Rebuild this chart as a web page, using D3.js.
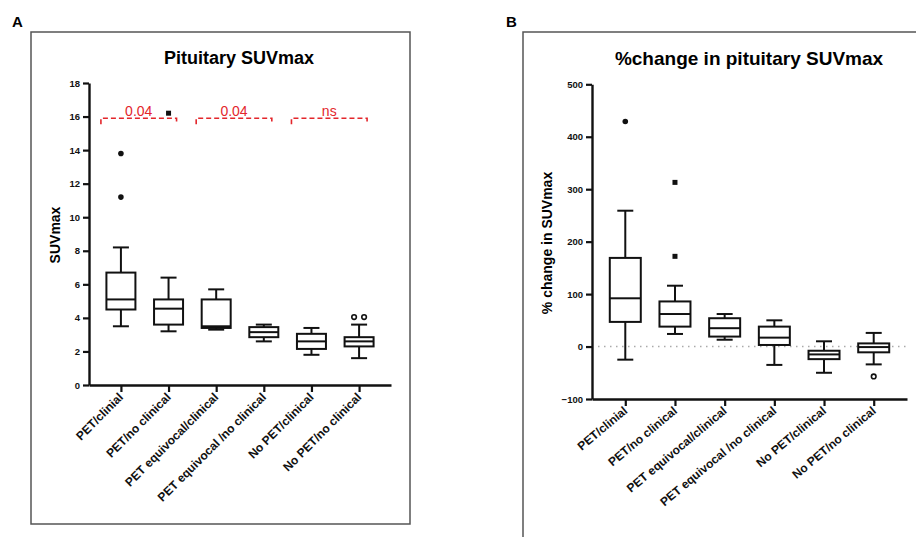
<!DOCTYPE html>
<html><head><meta charset="utf-8">
<script src="https://cdn.jsdelivr.net/npm/d3@7"></script>
<style>
body{margin:0;background:#fff;}
text{font-family:"Liberation Sans",Arial,Helvetica,sans-serif;}
</style></head>
<body><svg id="chart" width="916" height="537"></svg>
<script>
const categories = ["PET/clinial","PET/no clinical","PET equivocal/clinical","PET equivocal /no clinical","No PET/clinical","No PET/no clinical"];
const outlierMarkers = ["dot","square","dot","dot","dot","ring"];

// Panel A: Pituitary SUVmax
const suvMin    = [3.5, 3.2, 3.3, 2.6, 1.8, 1.6];
const suvQ1     = [4.5, 3.6, 3.4, 2.85, 2.15, 2.3];
const suvMedian = [5.1, 4.55, 3.5, 3.15, 2.6, 2.6];
const suvQ3     = [6.7, 5.1, 5.1, 3.45, 3.05, 2.85];
const suvMax    = [8.2, 6.4, 5.7, 3.6, 3.4, 3.6];
const suvOutliers = [[11.2, 13.8], [16.2], [], [], [], [4.05, 4.05]];
const suvTicks = [0,2,4,6,8,10,12,14,16,18];
const sigPairs = [[0,1,"0.04"],[2,3,"0.04"],[4,5,"ns"]];
const sigLevel = 15.9;

// Panel B: %change in pituitary SUVmax
const pctMin    = [-25, 24, 13, -35, -50, -34];
const pctQ1     = [47, 38, 19, 3, -24, -11];
const pctMedian = [92, 62, 35, 17, -15, -1];
const pctQ3     = [169, 86, 54, 38, -8, 6];
const pctMax    = [259, 116, 62, 50, 10, 26];
const pctOutliers = [[429], [172, 313], [], [], [], [-57]];
const pctTicks = [-100,0,100,200,300,400,500];

const svg = d3.select("#chart");

// panel frames and letters
svg.append("rect").attr("x",31).attr("y",32).attr("width",379).attr("height",492)
  .attr("fill","none").attr("stroke","#555").attr("stroke-width",1.5);
svg.append("path").attr("d","M523,545V32H930").attr("fill","none").attr("stroke","#555").attr("stroke-width",1.5);
svg.append("text").attr("x",12).attr("y",27).text("A").attr("font-weight","bold").attr("font-size",15);
svg.append("text").attr("x",506).attr("y",27).text("B").attr("font-weight","bold").attr("font-size",15);

function panel(cfg){
  const g = svg.append("g");
  const x = d3.scalePoint().domain(categories).range(cfg.xr).padding(0.67);
  const y = d3.scaleLinear().domain(cfg.yd).range(cfg.yr);
  // title
  g.append("text").attr("x",cfg.titleX).attr("y",cfg.titleY).attr("text-anchor","middle")
    .attr("font-weight","bold").attr("font-size",cfg.titleSize).text(cfg.title);
  // y label
  g.append("text").attr("transform",`translate(${cfg.ylabX},${cfg.ylabY}) rotate(-90)`)
    .attr("text-anchor","middle").attr("font-weight","bold").attr("font-size",14).text(cfg.ylab);
  // zero line
  if (cfg.zeroLine){
    g.append("line").attr("x1",cfg.xr[0]+6).attr("x2",cfg.xr[1]).attr("y1",y(0)).attr("y2",y(0))
      .attr("stroke","#aaa").attr("stroke-width",1.5).attr("stroke-dasharray","1.5,4.5");
  }
  // axes
  const ya = g.append("g").attr("transform",`translate(${cfg.xr[0]},0)`)
    .call(d3.axisLeft(y).tickValues(cfg.ticks).tickSize(6).tickSizeOuter(0).tickPadding(3));
  const xa = g.append("g").attr("transform",`translate(0,${cfg.yr[0]})`)
    .call(d3.axisBottom(x).tickSize(7).tickSizeOuter(0).tickFormat(""));
  [ya,xa].forEach(a=>{
    a.select(".domain").attr("stroke","#111").attr("stroke-width",2.4);
    a.selectAll(".tick line").attr("stroke","#111").attr("stroke-width",2.2);
  });
  ya.selectAll(".tick text").attr("font-weight","bold").attr("font-size",9.5).attr("fill","#111")
    .style("font-family","'Liberation Sans',Arial,sans-serif");
  // x labels rotated
  g.selectAll(".xl").data(categories).join("text").attr("class","xl")
    .attr("transform",d=>`translate(${x(d)+3},${cfg.yr[0]+13}) rotate(${cfg.rot})`)
    .attr("text-anchor","end").attr("font-weight","bold").attr("font-size",12).attr("fill","#111").text(d=>d);
  // boxes
  const bw = cfg.bw, cw = 16;
  categories.forEach((c,i)=>{
    const cx = x(c);
    const sw = 2;
    const st = "#111";
    g.append("line").attr("x1",cx).attr("x2",cx).attr("y1",y(cfg.max[i])).attr("y2",y(cfg.q3[i])).attr("stroke",st).attr("stroke-width",sw);
    g.append("line").attr("x1",cx).attr("x2",cx).attr("y1",y(cfg.q1[i])).attr("y2",y(cfg.min[i])).attr("stroke",st).attr("stroke-width",sw);
    g.append("line").attr("x1",cx-cw/2).attr("x2",cx+cw/2).attr("y1",y(cfg.max[i])).attr("y2",y(cfg.max[i])).attr("stroke",st).attr("stroke-width",sw);
    g.append("line").attr("x1",cx-cw/2).attr("x2",cx+cw/2).attr("y1",y(cfg.min[i])).attr("y2",y(cfg.min[i])).attr("stroke",st).attr("stroke-width",sw);
    g.append("rect").attr("x",cx-bw/2).attr("width",bw).attr("y",y(cfg.q3[i])).attr("height",y(cfg.q1[i])-y(cfg.q3[i]))
      .attr("fill","#fff").attr("stroke",st).attr("stroke-width",sw);
    g.append("line").attr("x1",cx-bw/2).attr("x2",cx+bw/2).attr("y1",y(cfg.med[i])).attr("y2",y(cfg.med[i])).attr("stroke",st).attr("stroke-width",sw);
    // outliers
    const outs = cfg.out[i];
    outs.forEach((v,j)=>{
      const dup = outs.filter(w=>w===v).length>1;
      const k = outs.slice(0,j).filter(w=>w===v).length;
      const ox = dup ? cx + (k===0?-5:5) : cx;
      const m = outlierMarkers[i];
      if (m==="square"){
        g.append("rect").attr("x",ox-2.5).attr("y",y(v)-2.5).attr("width",5).attr("height",5).attr("fill","#111");
      } else if (m==="ring"){
        g.append("circle").attr("cx",ox).attr("cy",y(v)).attr("r",2.3).attr("fill","#fff").attr("stroke","#111").attr("stroke-width",1.6);
      } else {
        g.append("circle").attr("cx",ox).attr("cy",y(v)).attr("r",2.8).attr("fill","#111");
      }
    });
  });
  return {x,y,g};
}

const A = panel({xr:[89,391], yd:[0,18], yr:[385,83], ticks:suvTicks, bw:29,
  min:suvMin,q1:suvQ1,med:suvMedian,q3:suvQ3,max:suvMax,out:suvOutliers,
  title:"Pituitary SUVmax", titleX:239, titleY:64, titleSize:18,
  ylab:"SUVmax", ylabX:60, ylabY:235, rot:-45, zeroLine:false});

// significance brackets
sigPairs.forEach(([a,b,lab])=>{
  const x1 = A.x(categories[a])-20, x2 = A.x(categories[b])+8, yy = A.y(sigLevel);
  A.g.append("path").attr("d",`M${x1},${yy+6}V${yy}H${x2}V${yy+6}`).attr("fill","none")
    .attr("stroke","#e3262b").attr("stroke-width",1.6).attr("stroke-dasharray","5,3");
  A.g.append("text").attr("x",(x1+x2)/2).attr("y",yy-2).attr("text-anchor","middle")
    .attr("fill","#e3262b").attr("font-size",14).text(lab);
});

const B = panel({xr:[592,907], yd:[-100,500], yr:[399,84.3], ticks:pctTicks, bw:31,
  min:pctMin,q1:pctQ1,med:pctMedian,q3:pctQ3,max:pctMax,out:pctOutliers,
  title:"%change in pituitary SUVmax", titleX:749, titleY:65, titleSize:19,
  ylab:"% change in SUVmax", ylabX:552, ylabY:243, rot:-40, zeroLine:true});
</script>
</body></html>
